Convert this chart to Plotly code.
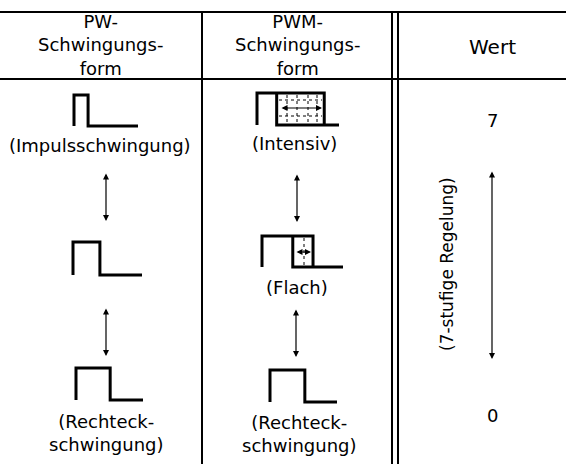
import plotly.graph_objects as go

# Inhalte der Tabelle
kopf_texte = ["PW-<br>Schwingungs-<br>form", "PWM-<br>Schwingungs-<br>form"]
kopf_wert = "Wert"
pw_beschriftung = ["(Impulsschwingung)", "", "(Rechteck-<br>schwingung)"]
pwm_beschriftung = ["(Intensiv)", "(Flach)", "(Rechteck-<br>schwingung)"]
pw_tastgrad = [0.22, 0.39, 0.51]          # Anteil Impuls an der Periode
pwm_bereich = [(0.24, 0.82), (0.38, 0.63), (0.0, 0.52)]  # Bereich der Breitenmodulation
werte = ["7", "0"]
regelung = "(7-stufige Regelung)"

B, H = 566, 464
SCHRIFT = "DejaVu Sans"
fig = go.Figure()


def linie(xs, ys, breite=3, dash=None):
    fig.add_trace(go.Scatter(x=xs, y=ys, mode="lines", hoverinfo="skip",
                             line=dict(color="black", width=breite, dash=dash)))


def text(x, y, t, groesse=18, winkel=0):
    fig.add_annotation(x=x, y=y, text=t, showarrow=False, textangle=winkel,
                       font=dict(family=SCHRIFT, size=groesse, color="black"),
                       xanchor="center", yanchor="middle")


def pfeil(x0, y0, x1, y1):
    fig.add_annotation(x=x1, y=y1, ax=x0, ay=y0, xref="x", yref="y", axref="x", ayref="y",
                       text="", showarrow=True, arrowhead=2, arrowside="end+start",
                       arrowsize=1, arrowwidth=1.2, arrowcolor="black", standoff=0, startstandoff=0)


# Tabellenlinien
linie([0, B], [12, 12], 2)
linie([0, B], [79, 79], 2)
linie([202, 202], [12, H], 2)
linie([392, 392], [12, H], 2)
linie([398, 398], [12, H], 2)

# Kopfzeile
text(100, 45, kopf_texte[0], 18)
text(297, 45, kopf_texte[1], 18)
text(492, 47, kopf_wert, 20)

# PW-Schwingungen (Spalte 1)
pw_pos = [(74, 95, 126, 64), (73, 242, 275, 69), (76, 368, 400, 67)]
for (x0, yo, yu, per), d in zip(pw_pos, pw_tastgrad):
    xf = x0 + d * per
    linie([x0, x0, xf, xf, x0 + per], [yu, yo, yo, yu, yu])

text(100, 145, pw_beschriftung[0])
text(106, 433, pw_beschriftung[2])
pfeil(106, 172, 106, 221)
pfeil(106, 307, 106, 356)

# PWM-Schwingungen (Spalte 2)
pwm_pos = [(257, 93, 125, 82), (262, 236, 267, 81), (270, 370, 402, 67)]
for i, ((x0, yo, yu, per), (a, e)) in enumerate(zip(pwm_pos, pwm_bereich)):
    xa = x0 + a * per
    xe = x0 + e * per
    if i < 2:
        linie([x0, x0, xe, xe], [yu, yo, yo, yu])
        linie([xa, xa, x0 + per], [yo, yu, yu])
    else:
        linie([x0, x0, xe, xe, x0 + per], [yu, yo, yo, yu, yu])

# gepunktetes Raster im Intensiv-Feld
for xv in [287, 297, 308, 317]:
    linie([xv, xv], [95, 123], 1, "dot")
for yh in [100, 116]:
    linie([279, 322], [yh, yh], 1, "dot")
pfeil(280, 108, 322, 108)
# Flach-Feld
linie([304, 304], [238, 265], 1, "dot")
pfeil(295, 252, 311, 252)

text(294, 143, pwm_beschriftung[0])
text(297, 287, pwm_beschriftung[1])
text(299, 434, pwm_beschriftung[2])
pfeil(297, 173, 297, 222)
pfeil(296, 308, 296, 357)

# Wert-Spalte
text(492, 120, werte[0], 18)
text(492, 415, werte[1], 18)
text(447, 264, regelung, 17, -90)
pfeil(492, 170, 492, 359)

fig.update_layout(width=B, height=H, margin=dict(l=0, r=0, t=0, b=0),
                  paper_bgcolor="white", plot_bgcolor="white", showlegend=False,
                  xaxis=dict(range=[0, B], visible=False, fixedrange=True),
                  yaxis=dict(range=[H, 0], visible=False, fixedrange=True))

# Seitenrand des Browsers entfernen, damit das Bild bei 0/0 beginnt
fig.write_html("out.html", config={"displayModeBar": False},
               post_script="document.body.style.margin='0';")
